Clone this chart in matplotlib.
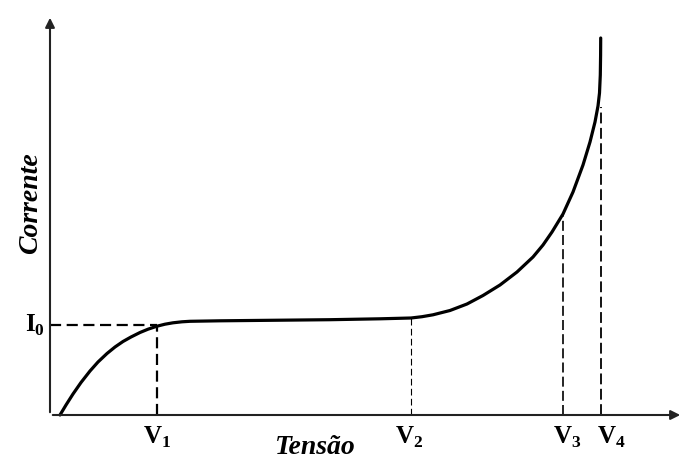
import matplotlib
matplotlib.use('Agg')
import matplotlib.pyplot as plt

plt.rcParams['mathtext.fontset'] = 'custom'
plt.rcParams['mathtext.rm'] = 'Liberation Serif'
plt.rcParams['mathtext.bf'] = 'Liberation Serif:bold'

# curva corrente x tensao (unidades arbitrarias)
tensao = [10, 16, 23, 31, 40, 48, 57, 65, 73, 81, 90, 98, 107, 115, 123, 132, 140,
          170, 220, 280, 330, 361, 372, 383, 400, 417, 433, 450, 467, 483, 493, 502,
          513, 523, 533, 540, 545, 548, 549.5, 550.3, 550.6, 550.7]
corrente = [0, 10, 21, 32.5, 44, 53, 61.5, 68, 73.5, 78, 82.5, 85.8, 88.8, 90.8, 92.2,
            93.2, 93.7, 94.2, 94.7, 95.3, 96.2, 97, 98.3, 100.2, 104.5, 111, 119.5, 130,
            143, 158, 170, 183, 201, 223, 250, 273, 293, 309, 322, 340, 360, 377]

V = [107, 361, 513, 550.5]
I_V = [88.8, 97, 201, 308]
V_labels = [r'$\mathbf{V}_\mathbf{1}$', r'$\mathbf{V}_\mathbf{2}$',
            r'$\mathbf{V}_\mathbf{3}$', r'$\mathbf{V}_\mathbf{4}$']
V_offsets = [0, -2, 4, 11]
I0 = 90

fig = plt.figure(figsize=(6.83, 4.65), dpi=100)
ax = fig.add_axes([50/683, 50/465, 633/683, 400/465])
ax.set_xlim(0, 633)
ax.set_ylim(0, 400)
ax.axis('off')

# eixos com setas
ax.annotate('', xy=(1, 0), xytext=(0, 0), xycoords='axes fraction',
            arrowprops=dict(arrowstyle='-|>', lw=1.5, color='#222222', mutation_scale=14))
ax.annotate('', xy=(0, 1), xytext=(0, 0), xycoords='axes fraction',
            arrowprops=dict(arrowstyle='-|>', lw=1.5, color='#222222', mutation_scale=14))

ax.plot(tensao, corrente, color='black', lw=2.3, solid_capstyle='round',
        solid_joinstyle='round', clip_on=False)

# linhas tracejadas
ax.plot([0, V[0]], [I0, I0], color='black', lw=1.6, dashes=(5, 2.5))
ax.plot([V[0], V[0]], [0, I_V[0]], color='black', lw=1.6, dashes=(5, 2.5))
ax.plot([V[1], V[1]], [0, I_V[1]], color='black', lw=0.8, dashes=(6, 3))
ax.plot([V[2], V[2]], [0, I_V[2]], color='black', lw=1.2, dashes=(6, 2.5))
ax.plot([V[3], V[3]], [0, I_V[3]], color='black', lw=1.3, dashes=(6, 2.5))

for v, lab, off in zip(V, V_labels, V_offsets):
    ax.text(v + off, -22, lab, ha='center', va='center', fontsize=18)

ax.text(-15, I0, r'$\mathbf{I}_\mathbf{0}$', ha='center', va='center', fontsize=18)

ax.text(265, -32, 'Tensão', ha='center', va='center', fontsize=20,
        family='Liberation Serif', fontweight='bold', fontstyle='italic')
ax.text(-19, 212, 'Corrente', ha='center', va='center', fontsize=20, rotation=90,
        family='Liberation Serif', fontweight='bold', fontstyle='italic')

fig.savefig('out.png', dpi=100)
